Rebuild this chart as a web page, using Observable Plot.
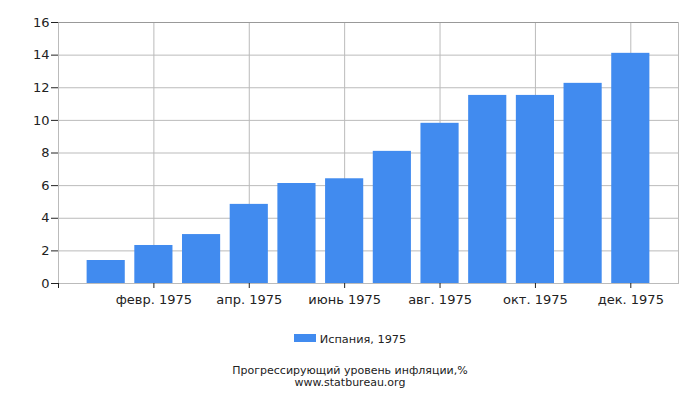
<!DOCTYPE html>
<html><head><meta charset="utf-8">
<script src="https://cdn.jsdelivr.net/npm/d3@7"></script>
<script src="https://cdn.jsdelivr.net/npm/@observablehq/plot@0.6"></script>
<style>
body{margin:0;background:#fff;font-family:"DejaVu Sans",sans-serif;}
#wrap{position:relative;width:700px;height:400px;}
#legend{position:absolute;top:333px;left:0;width:700px;text-align:center;font-size:11.3px;color:#222;}
#legend .sw{display:inline-block;width:22px;height:8px;background:#418bef;margin-right:4px;vertical-align:1px;}
#cap{position:absolute;top:365px;left:0;width:700px;text-align:center;font-size:11px;line-height:11.5px;color:#222;}
</style></head>
<body><div id="wrap"><div id="chart"></div>
<div id="legend"><span class="sw"></span>Испания, 1975</div>
<div id="cap">Прогрессирующий уровень инфляции,%<br>www.statbureau.org</div></div>
<script>
const months = ["янв. 1975","февр. 1975","март 1975","апр. 1975","май 1975","июнь 1975","июль 1975","авг. 1975","сент. 1975","окт. 1975","нояб. 1975","дек. 1975"];
const values = [1.41, 2.33, 3.0, 4.85, 6.13, 6.42, 8.1, 9.82, 11.53, 11.53, 12.27, 14.11];
const xTicks = [0, 2, 4, 6, 8, 10, 12];
const yTicks = [0, 2, 4, 6, 8, 10, 12, 14, 16];
const data = months.map((m, i) => ({month: m, pos: i + 1, value: values[i]}));
const label = p => p >= 1 && p <= 12 ? months[p - 1] : "";
const chart = Plot.plot({
  width: 700, height: 310,
  marginLeft: 58, marginRight: 22, marginTop: 22, marginBottom: 27,
  style: {fontFamily: "DejaVu Sans, sans-serif", fontSize: "13px", color: "#222"},
  x: {domain: [0, 13]},
  y: {domain: [0, 16]},
  marks: [
    Plot.gridY(yTicks, {stroke: "#bbb", strokeOpacity: 1}),
    Plot.gridX(xTicks, {stroke: "#bbb", strokeOpacity: 1}),
    Plot.rectY(data, {x1: d => d.pos - 0.4, x2: d => d.pos + 0.4, y: "value", fill: "#418bef"}),
    Plot.frame({stroke: "#bbb"}),
    Plot.ruleY([16], {stroke: "#999"}),
    Plot.axisY(yTicks, {tickSize: 7, tickPadding: 2, label: null, stroke: "#222", fill: "#222", fontSize: 13}),
    Plot.axisX(xTicks, {tickSize: 5, tickPadding: 6, tickFormat: label, label: null, stroke: "#222", fill: "#222", fontSize: 13})
  ]
});
document.getElementById("chart").appendChild(chart);
</script></body></html>
